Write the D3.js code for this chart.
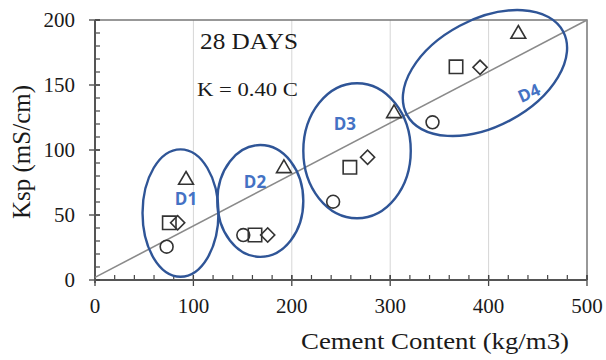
<!DOCTYPE html>
<html>
<head>
<meta charset="utf-8">
<script src="https://cdn.jsdelivr.net/npm/d3@7"></script>
<style>
  html, body { margin: 0; padding: 0; background: #fff; }
  svg { display: block; }
  text { font-family: "Liberation Serif", "Times New Roman", serif; fill: #1a1a1a; }
</style>
</head>
<body>
<svg id="chart" width="606" height="360"></svg>
<script>
// Mix groups and specific conductivity (mS/cm) against cement content (kg/m3)
const groups = ["D1", "D2", "D3", "D4"];

const circleX   = [72.8, 150.7, 242.0, 343.0];
const circleY   = [25.6, 34.6, 60.2, 121.3];
const squareX   = [75.5, 162.6, 259.0, 366.9];
const squareY   = [44.0, 34.6, 86.7, 164.0];
const diamondX  = [84.0, 175.5, 277.0, 391.3];
const diamondY  = [44.0, 34.6, 94.4, 163.6];
const triangleX = [92.5, 192.0, 303.9, 430.2];
const triangleY = [76.9, 85.9, 128.2, 189.2];

// Trend line K = 0.40 C
const trendX = [0, 500];
const trendY = [2, 200];

// Group outlines (centre and half-extent in axis units, tilt in degrees)
const groupCx   = [86.9, 168.0, 266.3, 396.3];
const groupCy   = [51.5, 60.8, 99.4, 159.2];
const groupRx   = [38.6, 43.7, 54.6, 90.0];
const groupRy   = [49.0, 43.0, 51.9, 41.2];
const groupTilt = [0, 0, 0, -28];
const groupLabelX = [92.5, 162.6, 254.0, 441.0];
const groupLabelY = [62.3, 75.4, 120.0, 143.8];

const xTicks = [0, 100, 200, 300, 400, 500];
const yTicks = [0, 50, 100, 150, 200];

const svg = d3.select("#chart");
const plotLeft = 95, plotRight = 587, plotTop = 20, plotBottom = 280;

const x = d3.scaleLinear().domain([0, 500]).range([plotLeft, plotRight]);
const y = d3.scaleLinear().domain([0, 200]).range([plotBottom, plotTop]);

// vertical grid lines
svg.append("g").selectAll("line")
  .data(xTicks.filter(d => d > 0 && d < 500))
  .join("line")
  .attr("x1", d => x(d)).attr("x2", d => x(d))
  .attr("y1", plotTop).attr("y2", plotBottom)
  .attr("stroke", "#d6d6d6").attr("stroke-width", 1);

// frame (top and right)
svg.append("path")
  .attr("d", `M${plotLeft},${plotTop}H${plotRight}V${plotBottom}`)
  .attr("fill", "none").attr("stroke", "#777").attr("stroke-width", 1.5);

// x axis: minor ticks inside, major ticks crossing
const xAxis = svg.append("g");
xAxis.selectAll("line.minor")
  .data(d3.range(0, 501, 20))
  .join("line")
  .attr("x1", d => x(d)).attr("x2", d => x(d))
  .attr("y1", plotBottom).attr("y2", plotBottom - 5)
  .attr("stroke", "#444").attr("stroke-width", 1.2);
xAxis.selectAll("line.major")
  .data(xTicks)
  .join("line")
  .attr("x1", d => x(d)).attr("x2", d => x(d))
  .attr("y1", plotBottom - 5).attr("y2", plotBottom + 6)
  .attr("stroke", "#444").attr("stroke-width", 1.3);
xAxis.append("line")
  .attr("x1", plotLeft).attr("x2", plotRight).attr("y1", plotBottom).attr("y2", plotBottom)
  .attr("stroke", "#555").attr("stroke-width", 2);
xAxis.selectAll("text")
  .data(xTicks)
  .join("text")
  .attr("x", d => x(d)).attr("y", plotBottom + 33)
  .attr("text-anchor", "middle")
  .attr("font-size", 21)
  .text(d => d);

// y axis
const yAxis = svg.append("g");
yAxis.selectAll("line.minor")
  .data(d3.range(0, 201, 10))
  .join("line")
  .attr("x1", plotLeft).attr("x2", plotLeft + 5)
  .attr("y1", d => y(d)).attr("y2", d => y(d))
  .attr("stroke", "#444").attr("stroke-width", 1.2);
yAxis.selectAll("line.major")
  .data(yTicks)
  .join("line")
  .attr("x1", plotLeft - 6).attr("x2", plotLeft + 5)
  .attr("y1", d => y(d)).attr("y2", d => y(d))
  .attr("stroke", "#444").attr("stroke-width", 1.3);
yAxis.append("line")
  .attr("x1", plotLeft).attr("x2", plotLeft).attr("y1", plotTop).attr("y2", plotBottom + 3)
  .attr("stroke", "#555").attr("stroke-width", 2);
yAxis.selectAll("text")
  .data(yTicks)
  .join("text")
  .attr("x", plotLeft - 20).attr("y", d => y(d) + 7)
  .attr("text-anchor", "end")
  .attr("font-size", 21)
  .text(d => d);

// axis titles
svg.append("text")
  .attr("x", 301).attr("y", 349)
  .attr("font-size", 24)
  .attr("textLength", 268).attr("lengthAdjust", "spacingAndGlyphs")
  .text("Cement Content (kg/m3)");
svg.append("text")
  .attr("transform", "translate(30,152) rotate(-90)")
  .attr("text-anchor", "middle")
  .attr("font-size", 25)
  .text("Ksp (mS/cm)");

// trend line
svg.append("line")
  .attr("x1", x(trendX[0])).attr("y1", y(trendY[0]))
  .attr("x2", x(trendX[1])).attr("y2", y(trendY[1]))
  .attr("stroke", "#8a8a8a").attr("stroke-width", 1.6);

// annotations
svg.append("text")
  .attr("x", 200).attr("y", 49)
  .attr("font-size", 23)
  .attr("textLength", 98).attr("lengthAdjust", "spacingAndGlyphs")
  .text("28 DAYS");
svg.append("text")
  .attr("x", 197).attr("y", 96)
  .attr("font-size", 19)
  .attr("textLength", 101).attr("lengthAdjust", "spacingAndGlyphs")
  .text("K = 0.40 C");

// group ellipses
const ell = svg.append("g");
groups.forEach((g, i) => {
  const cx = x(groupCx[i]), cy = y(groupCy[i]);
  ell.append("ellipse")
    .attr("cx", cx).attr("cy", cy)
    .attr("rx", x(groupCx[i] + groupRx[i]) - cx)
    .attr("ry", cy - y(groupCy[i] + groupRy[i]))
    .attr("transform", `rotate(${groupTilt[i]},${cx},${cy})`)
    .attr("fill", "none")
    .attr("stroke", "#2f5597").attr("stroke-width", 2.4);
  const lx = x(groupLabelX[i]), ly = y(groupLabelY[i]);
  ell.append("text")
    .attr("transform", `translate(${lx},${ly}) rotate(${groupTilt[i] ? -24 : 0})`)
    .attr("text-anchor", "middle").attr("dy", "0.35em")
    .style("font-family", "'Open Sans', 'Noto Sans', sans-serif")
    .style("font-weight", "bold")
    .style("fill", "#4472c4")
    .attr("font-size", 17)
    .text(g);
});

// markers
const markerStroke = "#333";
const pts = svg.append("g")
  .attr("fill", "none").attr("stroke", markerStroke).attr("stroke-width", 1.6);

function plot(xs, ys, type, size, rot) {
  pts.append("g").selectAll("path")
    .data(xs.map((v, i) => [v, ys[i]]))
    .join("path")
    .attr("transform", d => `translate(${x(d[0])},${y(d[1])}) rotate(${rot})`)
    .attr("d", d3.symbol().type(type).size(size)());
}
plot(circleX, circleY, d3.symbolCircle, 130, 0);
plot(squareX, squareY, d3.symbolSquare, 180, 0);
plot(diamondX, diamondY, d3.symbolSquare, 100, 45);
plot(triangleX, triangleY, d3.symbolTriangle, 95, 0);
</script>
</body>
</html>
